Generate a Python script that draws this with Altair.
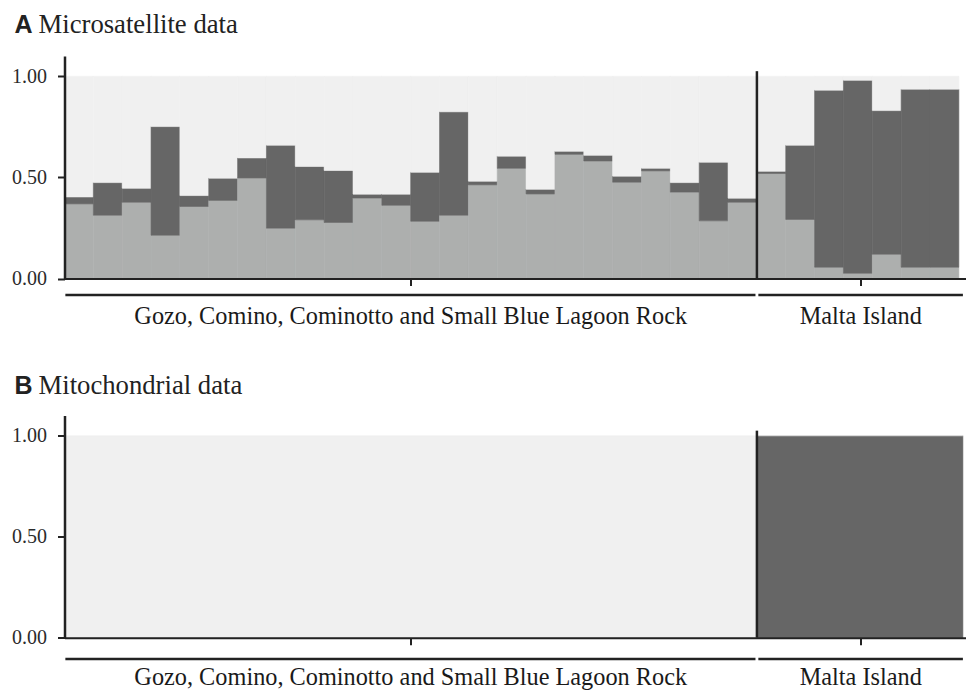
import altair as alt
import pandas as pd

# ---- data -------------------------------------------------------------
# Ancestry proportions (three clusters) per individual, microsatellite data
gozo_k1 = [0.369, 0.313, 0.377, 0.214, 0.356, 0.386, 0.497, 0.249, 0.290, 0.277,
           0.398, 0.362, 0.283, 0.313, 0.463, 0.545, 0.418, 0.614, 0.581, 0.476,
           0.532, 0.427, 0.285, 0.377]
gozo_k2 = [0.034, 0.161, 0.069, 0.537, 0.054, 0.110, 0.099, 0.410, 0.264, 0.257,
           0.019, 0.055, 0.242, 0.511, 0.018, 0.060, 0.023, 0.015, 0.028, 0.030,
           0.013, 0.047, 0.290, 0.020]
malta_k1 = [0.519, 0.292, 0.056, 0.026, 0.120, 0.056, 0.056]
malta_k2 = [0.011, 0.367, 0.875, 0.954, 0.710, 0.880, 0.880]

# Mitochondrial data: cluster share per sampling area
mito_gozo = {"K1": 0.0, "K2": 0.0, "K3": 1.0}
mito_malta = {"K1": 0.0, "K2": 1.0, "K3": 0.0}

groups = ["Gozo, Comino, Cominotto and Small Blue Lagoon Rock", "Malta Island"]
group_start = [0.0, 24.0]
group_end = [24.0, 31.14]
group_tick = [12.0, 27.6]

clusters = ["K1", "K2", "K3"]
cluster_colors = ["#adafae", "#666666", "#f0f0f0"]

# ---- tables -----------------------------------------------------------
k1_all = gozo_k1 + malta_k1
k2_all = gozo_k2 + malta_k2
rows = []
for i, (a, b) in enumerate(zip(k1_all, k2_all)):
    parts = [a, b, 1.0 - a - b]
    lo = 0.0
    for k, p in zip(clusters, parts):
        rows.append({"x0": i, "x1": i + 1, "cluster": k, "lo": lo, "hi": lo + p})
        lo += p
micro_df = pd.DataFrame(rows)

rows = []
for g, s, e, shares in zip(groups, group_start, group_end, [mito_gozo, mito_malta]):
    lo = 0.0
    for k in clusters:
        rows.append({"x0": s, "x1": e, "cluster": k, "lo": lo, "hi": lo + shares[k]})
        lo += shares[k]
mito_df = pd.DataFrame(rows)

gap = 0.05
strip_df = pd.DataFrame({
    "group": groups,
    "s": [group_start[0] + 0.03, group_start[1] + gap],
    "e": [group_end[0] - gap, group_end[1]],
    "mid": group_tick,
})
divider_df = pd.DataFrame({"x": [group_start[1]], "y0": [0.0], "y1": [1.025]})

W, H = 901, 222.5
XDOM = [0, 31.23]
INK = "#222222"
SERIF = "Times New Roman, Liberation Serif, Times, serif"

XS = alt.Scale(domain=XDOM, nice=False, zero=False)
YS = alt.Scale(domain=[0, 1.1], nice=False)
CS = alt.Scale(domain=clusters, range=cluster_colors)
XAXIS = alt.Axis(values=group_tick, labels=False, tickSize=7, tickWidth=2,
                 tickColor=INK, domainColor=INK, domainWidth=2, grid=False,
                 zindex=1, title=None)
YAXIS = alt.Axis(values=[0, 0.5, 1.0], format=".2f", tickSize=7, tickWidth=2,
                 tickColor=INK, domainColor=INK, domainWidth=2.5, grid=False,
                 labelFont=SERIF, labelFontSize=20, labelColor="#2b2b2b",
                 labelPadding=11, zindex=1, title=None)


def panel(df, letter, title, title_base, strip_off, label_off, h):
    # stacked cluster shares; a hairline stroke in the fill colour hides seams
    bars = alt.Chart(df).mark_rect(strokeWidth=0.6).encode(
        x=alt.X("x0:Q", scale=XS, axis=XAXIS, title=None),
        x2="x1:Q",
        y=alt.Y("lo:Q", scale=YS, axis=YAXIS, title=None),
        y2="hi:Q",
        color=alt.Color("cluster:N", legend=None, scale=CS),
        stroke=alt.Stroke("cluster:N", legend=None, scale=CS),
    )
    divider = alt.Chart(divider_df).mark_rule(color=INK, strokeWidth=2.5).encode(
        x=alt.X("x:Q", scale=XS, axis=XAXIS, title=None),
        y=alt.Y("y0:Q", scale=YS, axis=YAXIS, title=None),
        y2="y1:Q",
    )
    strips = alt.Chart(strip_df).mark_rule(color=INK, strokeWidth=2.5).encode(
        x=alt.X("s:Q", scale=XS, axis=XAXIS, title=None),
        x2="e:Q",
        y=alt.value(h + strip_off),
    )
    strip_text = alt.Chart(strip_df).mark_text(
        font=SERIF, fontSize=24.3, color="#1a1a1a", baseline="alphabetic"
    ).encode(
        x=alt.X("mid:Q", scale=XS, axis=XAXIS, title=None),
        y=alt.value(h + label_off),
        text="group:N",
    )
    head = pd.DataFrame({"letter": [letter], "title": [title]})
    letter_mark = alt.Chart(head).mark_text(
        font="Liberation Sans, Arial, sans-serif", fontWeight="bold", fontSize=25,
        color=INK, align="left", baseline="alphabetic"
    ).encode(x=alt.value(-50), y=alt.value(title_base), text="letter:N")
    title_mark = alt.Chart(head).mark_text(
        font=SERIF, fontSize=26.7, color=INK, align="left", baseline="alphabetic"
    ).encode(x=alt.value(-26), y=alt.value(title_base), text="title:N")
    return alt.layer(bars, divider, strips, strip_text, letter_mark, title_mark).properties(
        width=W, height=h
    )


top = panel(micro_df, "A", "Microsatellite data", -23.3, 16.5, 45.0, H)
bottom = panel(mito_df, "B", "Mitochondrial data", -21.7, 21.2, 47.5, 222.2)

chart = alt.vconcat(top, bottom, spacing=136.5, bounds="flush").properties(
    padding={"left": 11.5, "top": 11, "right": 0, "bottom": 0},
    background="white",
).configure_view(stroke=None)

chart.save("out.html", embed_options={"renderer": "svg", "actions": False})
